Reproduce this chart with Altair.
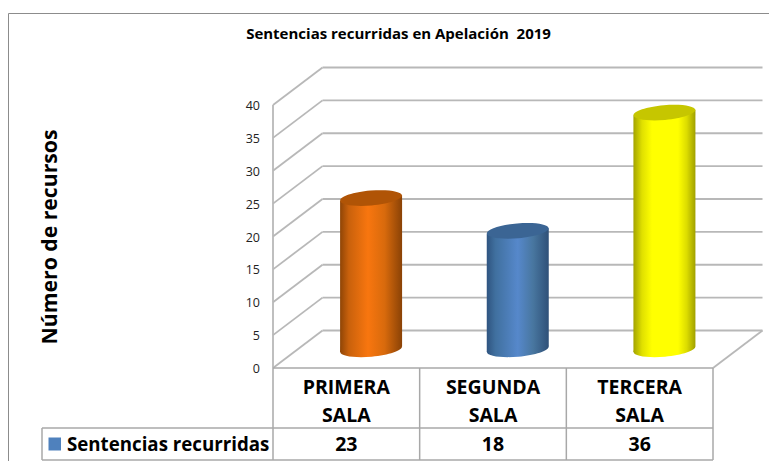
import altair as alt
import pandas as pd
import math

# ---- chart values ----
categories = ["PRIMERA SALA", "SEGUNDA SALA", "TERCERA SALA"]
values = [23, 18, 36]
ticks = [0, 5, 10, 15, 20, 25, 30, 35, 40]
series_name = "Sentencias recurridas"
title_text = "Sentencias recurridas en Apelación\u00a0 2019"
ytitle_text = "Número de recursos"
face_stops = [
    [(0, "#8f4506"), (0.14, "#c9610c"), (0.45, "#f8760f"), (0.72, "#d86a0c"), (1, "#8a4206")],
    [(0, "#2f5480"), (0.14, "#40709f"), (0.5, "#5688cb"), (0.75, "#48769f"), (1, "#2f5078")],
    [(0, "#a3a300"), (0.14, "#e0e000"), (0.3, "#ffff00"), (0.72, "#ffff00"), (0.86, "#dcdc00"), (1, "#a0a000")],
]
cap_colors = ["#b05406", "#3b6594", "#c6c600"]
GRID = "#b8b8b8"
TABLE = "#a8a8a8"
FONT = "Open Sans"

# ---- scales: x in category units, y in value units ----
W, H = 761, 453
ux = 440 / 3          # pixels per category
uy = 263 / 40         # pixels per value unit
x0, y0 = 265, 360     # where category 0 / value 0 sit in the plot
xs = alt.Scale(domain=[-x0 / ux, (W - x0) / ux], range=[0, W], nice=False, zero=False)
ys = alt.Scale(domain=[-(H - y0) / uy, y0 / uy], range=[H, 0], nice=False, zero=False)
DX = 49.5 / ux   # depth of the 3-D box
DY = 37.5 / uy
ROW1 = -60 / uy  # table lines
ROW2 = -92 / uy
LEFT = -231 / ux
n = len(categories)

X = alt.X("x:Q", scale=xs, axis=None)
Y = alt.Y("y:Q", scale=ys, axis=None)


def rules(rows, color, width=1.5):
    return alt.Chart(pd.DataFrame(rows, columns=["x", "y", "x2", "y2"])).mark_rule(
        color=color, strokeWidth=width
    ).encode(X, Y, x2="x2:Q", y2="y2:Q")


def text(rows, size, weight="bold", align="center", color="#000000", **kw):
    return alt.Chart(pd.DataFrame(rows, columns=["x", "y", "t"])).mark_text(
        font=FONT, fontSize=size, fontWeight=weight, align=align, baseline="middle", color=color, **kw
    ).encode(X, Y, text="t:N")


layers = []

# frame
FRAME_TOP = (y0 - 5.5) / uy
FRAME_L = -x0 / ux + 0.5 / ux
FRAME_R = (W - x0) / ux
layers.append(rules([[FRAME_L, FRAME_TOP, FRAME_R, FRAME_TOP],
                     [FRAME_L, FRAME_TOP, FRAME_L, -(H - y0) / uy]], "#8c8c8c", 1))

# 3-D grid
grid = []
for t in ticks:
    grid.append([0, t, DX, t + DY])
    grid.append([DX, t + DY, n + DX, t + DY])
grid.append([0, 0, 0, ticks[-1]])
grid.append([n, 0, n + DX, DY])
layers.append(rules(grid, GRID, 1.8))

# table
table = [[0, 0, n, 0], [LEFT, ROW1, n, ROW1], [LEFT, ROW2, n, ROW2], [LEFT, ROW1, LEFT, ROW2]]
for i in range(n + 1):
    table.append([i, 0, i, ROW2])
layers.append(rules(table, TABLE, 1.5))

# cylinders
half = 31 / ux
tilt = 2.7 / uy
tilt_deg = 5
c, s = math.cos(math.radians(tilt_deg)), math.sin(math.radians(tilt_deg))
minor = 0.24
ell = (f"M {-c:.4f} {s:.4f} A 1 {minor} {-tilt_deg} 1 1 {c:.4f} {-s:.4f} "
       f"A 1 {minor} {-tilt_deg} 1 1 {-c:.4f} {s:.4f} Z")
size = 62 ** 2

for i, v in enumerate(values):
    cx = i + 0.5 + DX / 2
    lift = DY / 2
    grad = alt.LinearGradient(
        gradient="linear", x1=0, x2=1, y1=0, y2=0,
        stops=[alt.GradientStop(offset=o, color=col) for o, col in face_stops[i]],
    )
    bottom = alt.Chart(pd.DataFrame({"x": [cx], "y": [lift]})).mark_point(
        shape=ell, size=size, filled=True, fill=grad, opacity=1, stroke=None
    ).encode(X, Y)
    body = alt.Chart(pd.DataFrame({
        "x": [cx - half, cx + half],
        "y": [v + lift - tilt, v + lift + tilt],
        "y2": [lift - tilt, lift + tilt],
    })).mark_area(fill=grad, opacity=1).encode(X, Y, y2="y2:Q")
    top = alt.Chart(pd.DataFrame({"x": [cx], "y": [v + lift]})).mark_point(
        shape=ell, size=size, filled=True, fill=cap_colors[i], opacity=1, stroke=None
    ).encode(X, Y)
    layers += [bottom, body, top]

# tick labels
layers.append(text([[0, t, str(t)] for t in ticks], 12.5, "normal", "right", "#222222", dx=-13, dy=1))

# category labels and values
rows = []
for i, cat in enumerate(categories):
    a, b = cat.split(" ")
    rows.append([i + 0.5, -20 / uy, a])
    rows.append([i + 0.5, -47.5 / uy, b])
    rows.append([i + 0.5, -76.5 / uy, str(values[i])])
layers.append(text(rows, 19.5))

# legend key and name
key = alt.Chart(pd.DataFrame({
    "x": [-224.5 / ux], "x2": [-212 / ux], "y": [-69.5 / uy], "y2": [-82.5 / uy]
})).mark_rect(color="#4f81bd").encode(X, Y, x2="x2:Q", y2="y2:Q")
layers.append(key)
layers.append(text([[-206 / ux, -76.5 / uy, series_name]], 18.7, align="left"))

# titles
layers.append(text([[(398.5 - 273) / ux, (368 - 34) / uy, title_text]], 15))
layers.append(text([[(51 - 273) / ux, (368 - 237) / uy, ytitle_text]], 21.2, "bold", angle=270))

chart = alt.layer(*layers).properties(
    width=W, height=H, padding=0, autosize="none", background="#ffffff"
).configure_view(stroke=None)

chart.save("out.html", embed_options={"renderer": "svg", "actions": False})
